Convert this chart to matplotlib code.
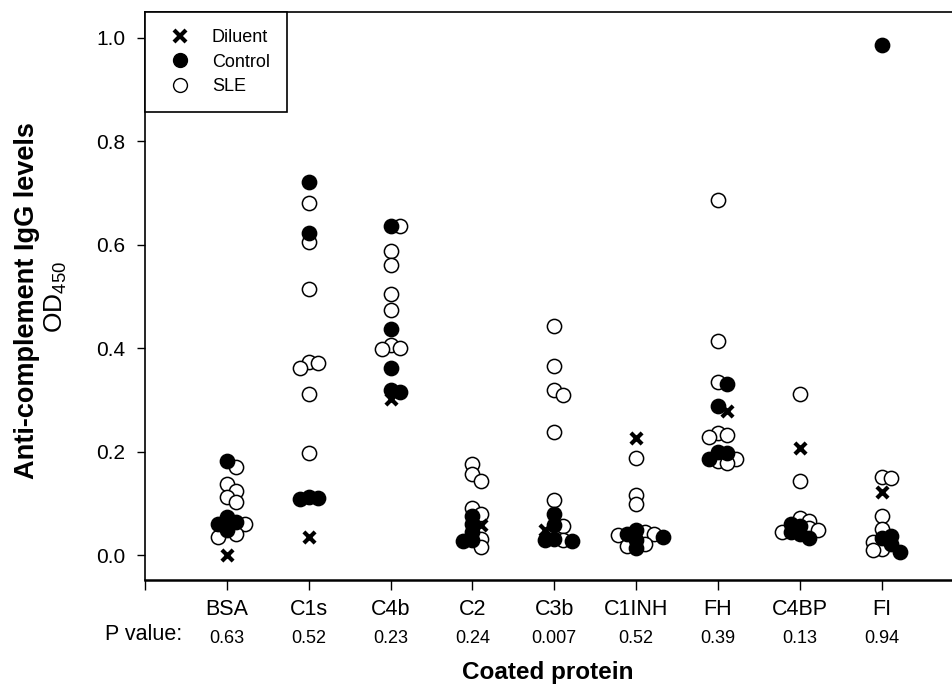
import numpy as np
import matplotlib
matplotlib.use("Agg")
import matplotlib.pyplot as plt
from matplotlib.lines import Line2D

plt.rcParams['font.family'] = ['Liberation Sans', 'DejaVu Sans']
plt.rcParams['mathtext.default'] = 'regular'

# ------------------ datos ------------------
categories = ['BSA', 'C1s', 'C4b', 'C2', 'C3b', 'C1INH', 'FH', 'C4BP', 'FI']
p_values = ['0.63', '0.52', '0.23', '0.24', '0.007', '0.52', '0.39', '0.13', '0.94']

diluent = [0.0, 0.035, 0.302, 0.058, 0.048, 0.226, 0.278, 0.207, 0.123]

control = [
    [0.183, 0.073, 0.065, 0.060, 0.048],
    [0.722, 0.623, 0.112, 0.110, 0.108],
    [0.636, 0.437, 0.362, 0.320, 0.316],
    [0.075, 0.060, 0.045, 0.029, 0.027],
    [0.079, 0.058, 0.031, 0.029, 0.028],
    [0.048, 0.041, 0.035, 0.029, 0.013],
    [0.330, 0.289, 0.200, 0.198, 0.186],
    [0.060, 0.056, 0.045, 0.040, 0.033],
    [0.986, 0.037, 0.033, 0.021, 0.007],
]

sle = [
    [0.170, 0.138, 0.125, 0.112, 0.102, 0.060, 0.040, 0.035],
    [0.680, 0.605, 0.515, 0.374, 0.372, 0.362, 0.311, 0.198],
    [0.636, 0.588, 0.561, 0.504, 0.473, 0.406, 0.400, 0.398],
    [0.177, 0.157, 0.144, 0.092, 0.080, 0.031, 0.015],
    [0.443, 0.366, 0.320, 0.310, 0.238, 0.106, 0.056, 0.030],
    [0.188, 0.117, 0.098, 0.044, 0.040, 0.039, 0.021, 0.018],
    [0.686, 0.414, 0.335, 0.236, 0.232, 0.228, 0.186, 0.182, 0.178],
    [0.312, 0.144, 0.071, 0.067, 0.052, 0.048, 0.044],
    [0.152, 0.150, 0.075, 0.050, 0.025, 0.012, 0.010],
]


# desplazamiento horizontal tipo "scatter con offset" (evita solapes)
def swarm(values, step=0.11, px_x=82.0, px_y=517.0, min_dist=7.5):
    order = np.argsort(-np.asarray(values), kind='stable')
    placed = []
    offsets = np.zeros(len(values))
    candidates = [0, 1, -1, 2, -2, 3, -3]
    for i in order:
        v = values[i]
        best = None
        for c in candidates:
            dx = c * step
            d_min = min([np.hypot((dx - px) * px_x, (v - pv) * px_y) for (px, pv) in placed],
                        default=99)
            if d_min >= min_dist:
                best = dx
                break
        if best is None:
            best = 0.0
        offsets[i] = best
        placed.append((best, v))
    return offsets


fig = plt.figure(figsize=(9.52, 6.88), dpi=100)
ax = fig.add_axes([145 / 952, 1 - 580 / 688, 1 - 145 / 952, (580 - 12) / 688])

for k in range(len(categories)):
    x0 = k + 1
    vals = [diluent[k]] + control[k] + sle[k]
    groups = ['d'] + ['c'] * len(control[k]) + ['s'] * len(sle[k])
    offs = swarm(vals)
    vals = np.array(vals)
    groups = np.array(groups)
    m = groups == 's'
    ax.scatter(x0 + offs[m], vals[m], s=105, facecolors='white', edgecolors='black',
               linewidths=1.1, zorder=2)
    m = groups == 'c'
    ax.scatter(x0 + offs[m], vals[m], s=105, facecolors='black', edgecolors='black',
               linewidths=1.1, zorder=3)
    m = groups == 'd'
    ax.scatter(x0 + offs[m], vals[m], s=65, marker='x', color='black',
               linewidths=3, zorder=4)

ax.set_xlim(0, 9.86)
ax.set_ylim(-0.048, 1.05)
ax.set_yticks([0, 0.2, 0.4, 0.6, 0.8, 1.0])
ax.set_yticklabels(['0.0', '0.2', '0.4', '0.6', '0.8', '1.0'])
ax.set_xticks(range(0, 10))
ax.set_xticklabels([''] + categories)
ax.tick_params(axis='x', direction='out', length=7, width=1, pad=7, labelsize=15.5)
ax.tick_params(axis='y', direction='out', length=6, width=1, pad=8, labelsize=15)
ax.spines['right'].set_visible(False)
for s in ['left', 'top']:
    ax.spines[s].set_linewidth(1.2)
ax.spines['bottom'].set_linewidth(1.8)

# fila de P value
trans = ax.get_xaxis_transform()
for k, p in enumerate(p_values):
    ax.text(k + 1, -0.103, p, transform=trans, ha='center', va='center', fontsize=13)
fig.text(182 / 952, 1 - 634 / 688, 'P value:', ha='right', va='center', fontsize=15.5)

fig.text(548 / 952, 1 - 673 / 688, 'Coated protein', ha='center', va='center',
         fontsize=17.5, fontweight='bold')
fig.text(27 / 952, 1 - 301 / 688, 'Anti-complement IgG levels', rotation=90,
         ha='center', va='center', fontsize=19.5, fontweight='bold')
fig.text(56 / 952, 1 - 297 / 688, 'OD$_{450}$', rotation=90,
         ha='center', va='center', fontsize=19)

handles = [
    Line2D([], [], marker='x', linestyle='none', color='black', markersize=8,
           markeredgewidth=3, label='Diluent'),
    Line2D([], [], marker='o', linestyle='none', markerfacecolor='black',
           markeredgecolor='black', markersize=10, label='Control'),
    Line2D([], [], marker='o', linestyle='none', markerfacecolor='white',
           markeredgecolor='black', markersize=10, label='SLE'),
]
leg = ax.legend(handles=handles, loc='upper left', borderaxespad=0, fancybox=False,
                edgecolor='black', fontsize=13, handletextpad=0.75, borderpad=0.95,
                labelspacing=0.42, handlelength=2.0, framealpha=1)
leg.get_frame().set_linewidth(1.2)

fig.savefig('out.png', dpi=100)
